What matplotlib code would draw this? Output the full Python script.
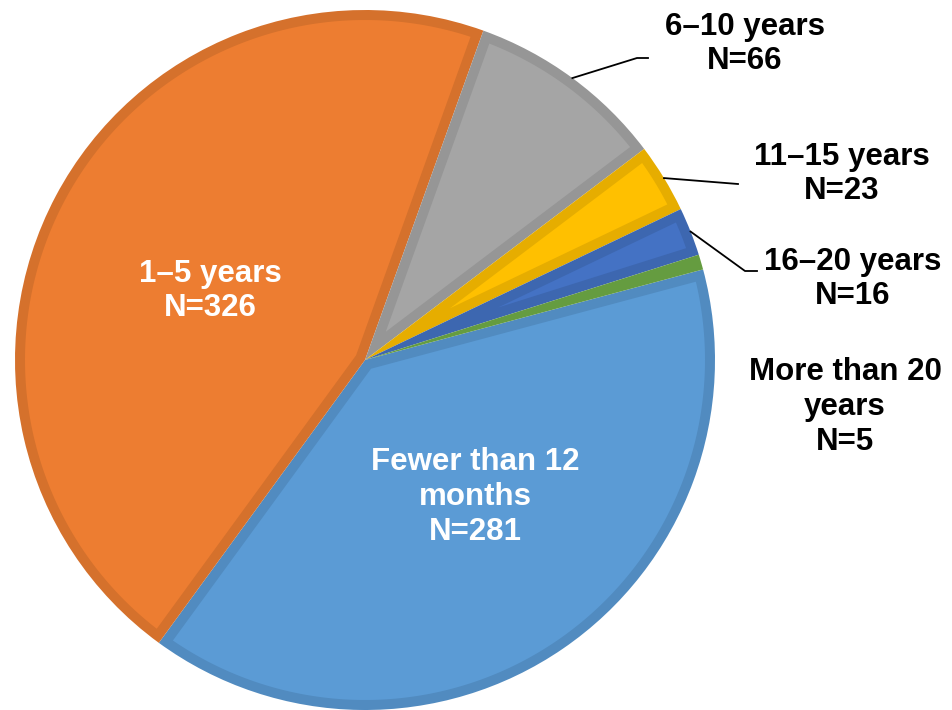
#!/usr/bin/env python3
"""Years of experience pie chart"""
import numpy as np
import matplotlib.pyplot as plt
from matplotlib.patches import Polygon

plt.rcParams["font.family"] = ["Liberation Sans", "DejaVu Sans"]
plt.rcParams["font.weight"] = "bold"

categories = ["Fewer than 12\nmonths", "1–5 years", "6–10 years",
              "11–15 years", "16–20 years", "More than 20\nyears"]
counts = [281, 326, 66, 23, 16, 5]
colors = ["#5B9BD5", "#ED7D31", "#A5A5A5", "#FFC000", "#4472C4", "#70AD47"]
edge_colors = ["#518BC0", "#D5712C", "#969696", "#E6AD00", "#3D67B0", "#659C40"]

W, H = 952, 710
CX, CY, R = 365, 360, 350  # pie centre/radius in pixels
BORDER = 10 / R  # inner border width, data units


def px(x, y):
    # pixel position -> data units (pie radius = 1)
    return (x - CX) / R, (CY - y) / R


def inset_wedge(t1, t2, d, r=1.0):
    # polygon of a wedge shrunk inward by d (None if nothing left)
    a1, a2 = np.deg2rad(t1), np.deg2rad(t2)
    half = (a2 - a1) / 2
    apex = d / np.sin(half) if half < np.pi / 2 else d
    r_in = r - d
    if apex >= r_in:
        return None
    s = np.arcsin(d / r_in)
    arc = np.linspace(a1 + s, a2 - s, 200)
    mid = (a1 + a2) / 2
    pts = [(apex * np.cos(mid), apex * np.sin(mid))]
    pts += list(zip(r_in * np.cos(arc), r_in * np.sin(arc)))
    return np.array(pts)


fig = plt.figure(figsize=(W / 100, H / 100), dpi=100)
ax = fig.add_axes([0, 0, 1, 1])
wedges, _ = ax.pie(counts, colors=edge_colors, startangle=15, counterclock=False,
                   radius=1, wedgeprops=dict(linewidth=0))
for w, fc in zip(wedges, colors):
    poly = inset_wedge(w.theta1, w.theta2, BORDER)
    if poly is not None:
        ax.add_patch(Polygon(poly, closed=True, facecolor=fc, edgecolor="none"))
ax.set_xlim(-CX / R, (W - CX) / R)
ax.set_ylim((CY - H) / R, CY / R)
ax.set_aspect("equal")
ax.axis("off")

# label layout (pixel centres), text colour, leader elbow/end points
label_pos = [(475, 497), (210, 291), (745, 44), (842, 174), (853, 279), (845, 407)]
label_col = ["white", "white", "black", "black", "black", "black"]
leaders = {2: [(637, 58), (648, 58)],
           3: [(738, 184)],
           4: [(745, 271), (757, 271)]}

for i, (name, n) in enumerate(zip(categories, counts)):
    x, y = px(*label_pos[i])
    ax.text(x, y, f"{name}\nN={n}", ha="center", va="center",
            fontsize=22.5, fontweight="bold", color=label_col[i], linespacing=1.2)
    if i in leaders:
        w = wedges[i]
        mid = np.deg2rad((w.theta1 + w.theta2) / 2)
        pts = [(np.cos(mid), np.sin(mid))] + [px(*p) for p in leaders[i]]
        xs, ys = zip(*pts)
        ax.plot(xs, ys, color="black", linewidth=1.3, clip_on=False)

plt.savefig("out.png", dpi=100)
print("saved out.png")
